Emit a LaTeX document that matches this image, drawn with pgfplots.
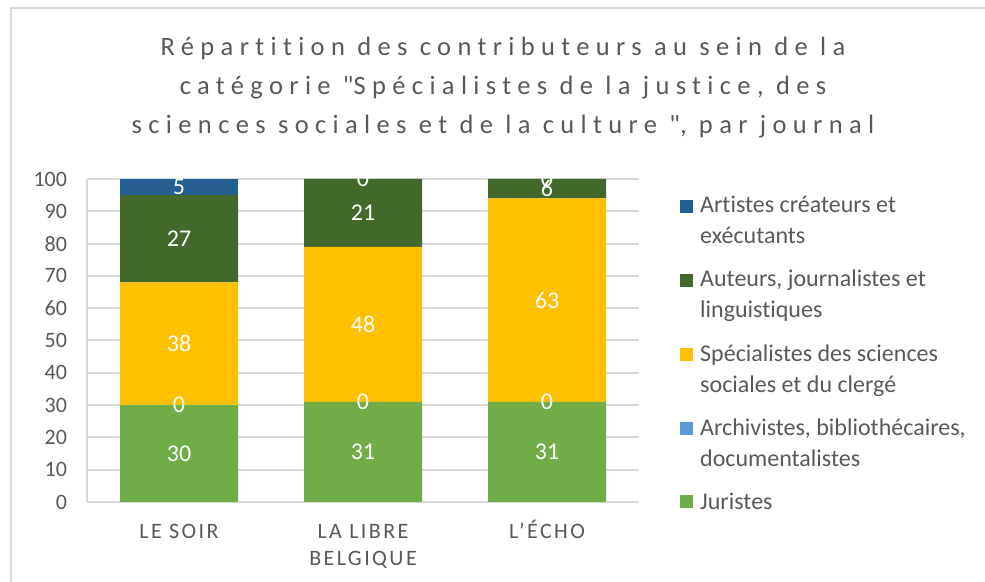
\documentclass[border=0pt]{standalone}
\usepackage{fontspec}
\setmainfont{Carlito}[Ligatures={TeX,NoCommon}]
\usepackage{pgfplots}
\pgfplotsset{compat=1.18}
\definecolor{txtgray}{HTML}{595959}
\definecolor{gridgray}{HTML}{D9D9D9}
\definecolor{cArt}{HTML}{255E91}
\definecolor{cAut}{HTML}{43682B}
\definecolor{cSpe}{HTML}{FFC000}
\definecolor{cArc}{HTML}{5B9BD5}
\definecolor{cJur}{HTML}{70AD47}
\newcommand\titlefont{\fontsize{26.5bp}{39bp}\selectfont\addfontfeatures{LetterSpace=24}}
\newcommand\xtfont{\fontsize{22bp}{27bp}\selectfont\addfontfeatures{LetterSpace=11}}
\newcommand\legfont{\fontsize{24bp}{31bp}\selectfont}
\pgfplotsset{
  twoline/.style={legend image code/.code={\fill[##1] (0bp,8bp) rectangle (13bp,21bp);}},
  oneline/.style={legend image code/.code={\fill[##1] (0bp,-6.5bp) rectangle (13bp,6.5bp);}},
  frame/.style={at={(87bp,80bp)}, anchor=south west, scale only axis,
    width=552bp, height=323bp, xmin=-0.5, xmax=2.5, ymin=0, ymax=100},
}
\begin{document}
\begin{tikzpicture}[x=1bp,y=1bp]
\useasboundingbox (0,0) rectangle (985,582);
\draw[gridgray, line width=2bp] (11,0) -- (11,573.5) -- (985,573.5);
\node[anchor=base, text=txtgray, font=\titlefont, inner sep=0pt] at (503,526.5) {Répartition des contributeurs au sein de la};
\node[anchor=base, text=txtgray, font=\titlefont, inner sep=0pt] at (503,487.5) {catégorie \textquotedbl Spécialistes de la justice, des};
\node[anchor=base, text=txtgray, font=\titlefont, inner sep=0pt] at (503,448.5) {sciences sociales et de la culture \textquotedbl, par journal};
\begin{axis}[
  frame,
  ybar stacked, bar width=118bp,
  xtick={0,1,2},
  xticklabels={\strut LE SOIR, {\strut LA LIBRE\\BELGIQUE}, \strut L’ÉCHO},
  ytick={0,10,...,100},
  ymajorgrids, grid style={gridgray, line width=2bp},
  axis lines=left, axis line style={-, gridgray, line width=2bp},
  major tick length=0pt,
  /pgf/number format/assume math mode=true,
  yticklabel style={font=\fontsize{22bp}{26bp}\selectfont, text=txtgray, xshift=-16.5bp},
  xticklabel style={font=\xtfont, text=txtgray, align=center, yshift=-14bp},
  reverse legend,
  legend cell align=left,
  legend style={at={(axis description cs:1.0743,0.947)}, anchor=north west,
     draw=none, fill=none, inner sep=0pt, row sep=25bp, column sep=7bp,
     font=\legfont, text=txtgray, nodes={inner sep=0pt, align=left}},
]
\addplot[fill=cJur, draw=none, oneline] coordinates {(0,30) (1,31) (2,31)};
\addlegendentry{Juristes}
\addplot[fill=cArc, draw=none, twoline] coordinates {(0,0) (1,0) (2,0)};
\addlegendentry{Archivistes, bibliothécaires,\\documentalistes}
\addplot[fill=cSpe, draw=none, twoline] coordinates {(0,38) (1,48) (2,63)};
\addlegendentry{Spécialistes des sciences\\sociales et du clergé}
\addplot[fill=cAut, draw=none, twoline] coordinates {(0,27) (1,21) (2,6)};
\addlegendentry{Auteurs, journalistes et\\linguistiques}
\addplot[fill=cArt, draw=none, twoline] coordinates {(0,5) (1,0) (2,0)};
\addlegendentry{Artistes créateurs et\\exécutants}
\end{axis}
% data labels, centred on each segment, drawn above all bars
\begin{axis}[
  frame, hide axis,
  /pgf/number format/assume math mode=true,
  point meta=explicit,
  nodes near coords,
  every node near coord/.append style={anchor=center, text=white,
     font=\fontsize{24bp}{28bp}\selectfont},
]
\addplot[draw=none, mark=none] coordinates {(0,15)[30] (1,15.5)[31] (2,15.5)[31]};
\addplot[draw=none, mark=none] coordinates {(0,30)[0] (1,31)[0] (2,31)[0]};
\addplot[draw=none, mark=none] coordinates {(0,49)[38] (1,55)[48] (2,62.5)[63]};
\addplot[draw=none, mark=none] coordinates {(0,81.5)[27] (1,89.5)[21] (2,97)[6]};
\addplot[draw=none, mark=none] coordinates {(0,97.5)[5] (1,100)[0] (2,100)[0]};
\end{axis}
\end{tikzpicture}
\end{document}
